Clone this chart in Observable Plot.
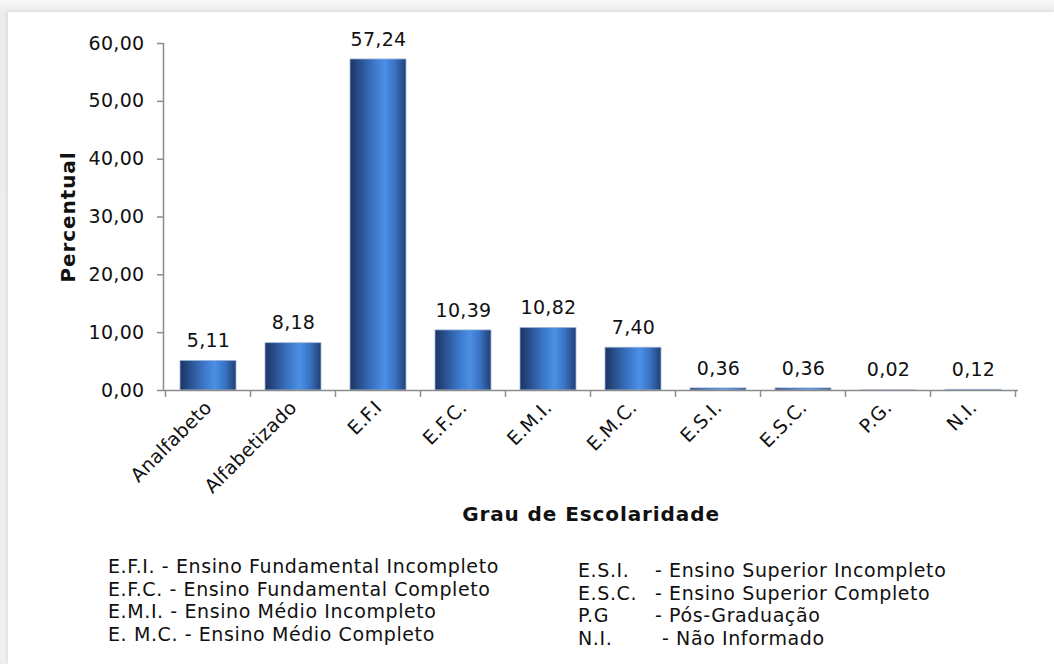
<!DOCTYPE html>
<html>
<head>
<meta charset="utf-8">
<script src="https://cdn.jsdelivr.net/npm/d3@7"></script>
<script src="https://cdn.jsdelivr.net/npm/@observablehq/plot@0.6"></script>
<style>
  html, body { margin: 0; padding: 0; }
  body { width: 1054px; height: 664px; overflow: hidden; position: relative;
         background: linear-gradient(#f8f8f8, #ececec 12px, #efefef); font-family: "DejaVu Sans", Verdana, sans-serif; }
  #panel { position: absolute; left: 8px; top: 12px; right: 0; bottom: 0; background: #fff;
           box-shadow: -1px -1px 3px rgba(0,0,0,0.08); }
  #chart { position: absolute; left: 0; top: 0; }
  .legend { position: absolute; font-size: 19px; line-height: 22.5px; letter-spacing: 0.6px; color: #111; white-space: pre; }
  .legend div span.ab { display: inline-block; }
</style>
</head>
<body>
<div id="panel"></div>
<div id="chart"></div>
<div class="legend" id="legL" style="left:108px; top:555px;"></div>
<div class="legend" id="legR" style="left:578px; top:559px;"></div>
<script>
const categories = ["Analfabeto", "Alfabetizado", "E.F.I", "E.F.C.", "E.M.I.", "E.M.C.", "E.S.I.", "E.S.C.", "P.G.", "N.I."];
const values = [5.11, 8.18, 57.24, 10.39, 10.82, 7.40, 0.36, 0.36, 0.02, 0.12];
const yTicks = [0, 10, 20, 30, 40, 50, 60];
const legendLeft = [
  "E.F.I. - Ensino Fundamental Incompleto",
  "E.F.C. - Ensino Fundamental Completo",
  "E.M.I. - Ensino Médio Incompleto",
  "E. M.C. - Ensino Médio Completo"
];
const legendRightAbbr = ["E.S.I.", "E.S.C.", "P.G", "N.I."];
const legendRightText = ["- Ensino Superior Incompleto", "- Ensino Superior Completo", "- Pós-Graduação", "- Não Informado"];

const data = categories.map((c, i) => ({cat: c, v: values[i]}));
const fmt = d => d.toFixed(2).replace(".", ",");
const axisColor = "#8c8c8c";

const axisLines = (index, scales, values_, dims) => {
  const g = d3.create("svg:g");
  const x = scales.x;
  const sx = scales.scales.x;
  const step = sx.step, bw = sx.bandwidth;
  const half = (step - bw) / 2;
  const y0 = dims.height - dims.marginBottom;
  const yTop = dims.marginTop;
  const left = dims.marginLeft;
  g.append("line").attr("x1", left + 0.5).attr("x2", left + 0.5).attr("y1", yTop).attr("y2", y0)
    .attr("stroke", axisColor).attr("stroke-width", 1.5);
  const bounds = categories.map(c => x(c) - half);
  bounds.push(x(categories[categories.length - 1]) + bw + half);
  bounds.forEach(b => g.append("line").attr("x1", b).attr("x2", b).attr("y1", y0).attr("y2", y0 + 7)
    .attr("stroke", axisColor).attr("stroke-width", 1.5));
  return g.node();
};

const plot = Plot.plot({
  width: 1054,
  height: 540,
  marginLeft: 163,
  marginRight: 36,
  marginTop: 43,
  marginBottom: 150,
  style: {fontFamily: "'DejaVu Sans', Verdana, sans-serif", color: "#111", background: "transparent", overflow: "visible"},
  x: {domain: categories, paddingInner: 0.345, paddingOuter: 0.1725},
  y: {domain: [0, 60]},
  marks: [
    Plot.barY(data, {x: "cat", y: "v", fill: "url(#barGrad)", stroke: "#9db6d8", strokeWidth: 0.8}),
    Plot.ruleY([0], {stroke: axisColor, strokeWidth: 1.5}),
    axisLines,
    Plot.axisY({ticks: yTicks, tickFormat: fmt, tickSize: 6, tickPadding: 13, fontSize: 19, stroke: axisColor, strokeWidth: 1.5, label: null}),
    Plot.axisX({tickSize: 0, tickRotate: -45, tickPadding: 14, fontSize: 19, label: null}),
    Plot.text(data, {x: "cat", y: "v", text: d => fmt(d.v), dy: -20, fontSize: 19, fill: "#111"}),
    Plot.text(["Grau de Escolaridade"], {frameAnchor: "bottom", dy: 130, fontSize: 20, fontWeight: "bold", fill: "#111"}),
    Plot.text(["Percentual"], {frameAnchor: "left", textAnchor: "middle", dx: -95, rotate: -90, fontSize: 20, fontWeight: "bold", fill: "#111"})
  ]
});

const svg = d3.select(plot);
svg.selectAll("[aria-label='x-axis tick label'] text").style("letter-spacing", "0.2px");
svg.selectAll("[aria-label='y-axis tick label'] text").style("letter-spacing", "0.3px");
svg.selectAll("[aria-label='text'] text").style("letter-spacing", "0.3px");
svg.selectAll("text").filter(function() { return this.textContent === "Grau de Escolaridade" || this.textContent === "Percentual"; })
  .style("letter-spacing", "0.9px");

const defs = svg.insert("defs", ":first-child");
const grad = defs.append("linearGradient").attr("id", "barGrad").attr("x1", 0).attr("x2", 1).attr("y1", 0).attr("y2", 0);
[[0, "#1b3563"], [0.12, "#24477f"], [0.4, "#3a73c4"], [0.62, "#4b90e6"], [0.8, "#3a73c4"], [1, "#213f72"]]
  .forEach(([o, c]) => grad.append("stop").attr("offset", o).attr("stop-color", c));

document.getElementById("chart").appendChild(plot);

const legL = document.getElementById("legL");
legendLeft.forEach(t => { const d = document.createElement("div"); d.textContent = t; legL.appendChild(d); });
const legR = document.getElementById("legR");
legendRightAbbr.forEach((a, i) => {
  const d = document.createElement("div");
  const s = document.createElement("span"); s.className = "ab"; s.textContent = a;
  s.style.width = (a === "N.I." ? 84 : 77) + "px";
  d.appendChild(s);
  d.appendChild(document.createTextNode(legendRightText[i]));
  legR.appendChild(d);
});
</script>
</body>
</html>
